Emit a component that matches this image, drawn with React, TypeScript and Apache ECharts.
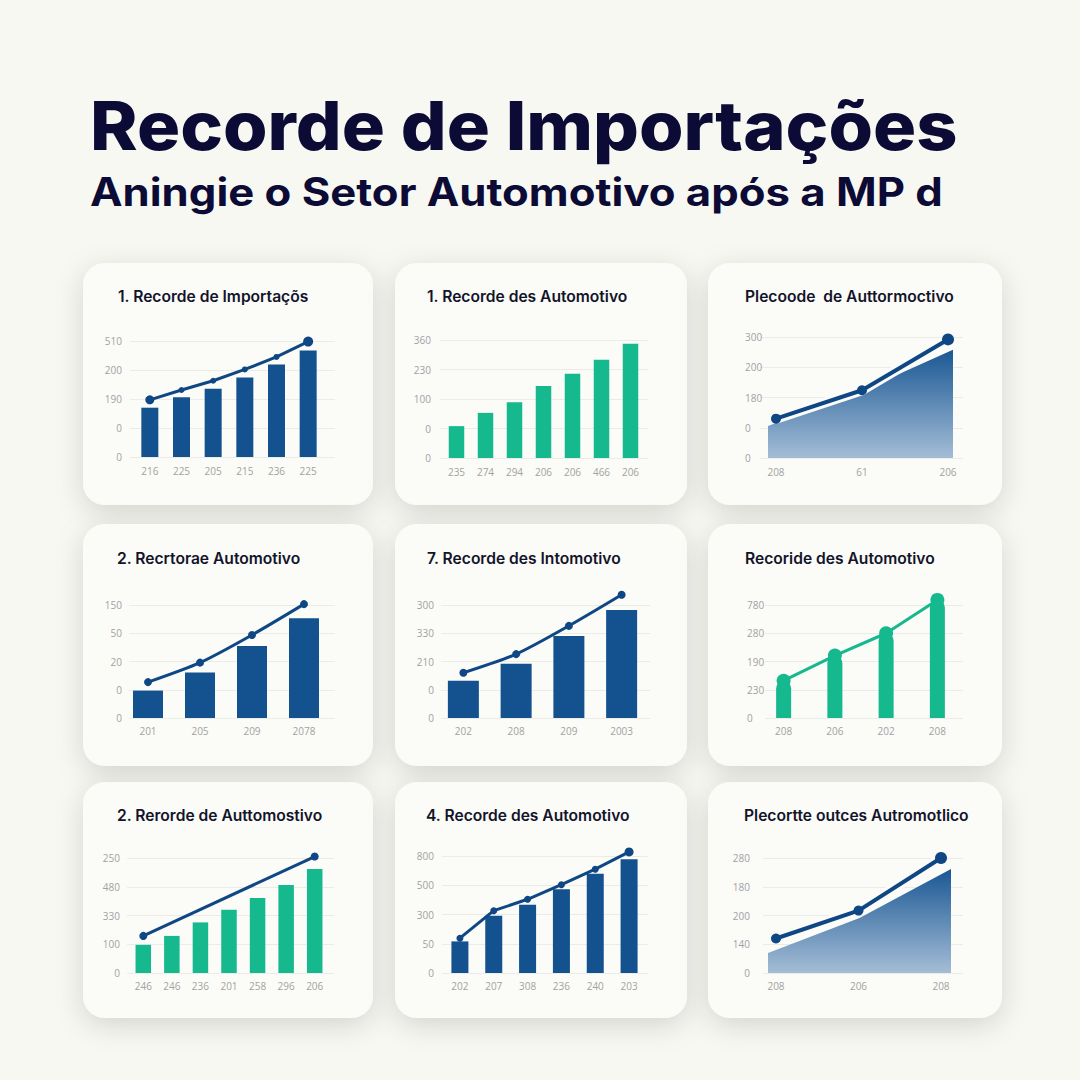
import React, { useEffect, useRef } from "react";
import * as echarts from "echarts";

// ---------- DATA ----------
const mainTitle = "Recorde de Importações";
const subTitle = "Aningie o Setor Automotivo após a MP d";

const p1Title = "1. Recorde de Importaçõs";
const p1Cats = ["216", "225", "205", "215", "236", "225"];
const p1Bars = [170, 206, 235, 274, 319, 367];
const p1Line = [197, 231, 263, 302, 345, 398];
const p1Ticks = ["0", "0", "190", "200", "510"];

const p2Title = "1. Recorde des Automotivo";
const p2Cats = ["235", "274", "294", "206", "206", "466", "206"];
const p2Bars = [108, 153, 189, 244, 286, 333, 387];
const p2Ticks = ["0", "0", "100", "230", "360"];

const p3Title = "Plecoode  de Auttormoctivo";
const p3Cats = ["208", "61", "206"];
const p3Area = [106, 221, 358];
const p3Line = [130, 224, 392];
const p3Ticks = ["0", "0", "180", "200", "300"];

const p4Title = "2. Recrtorae Automotivo";
const p4Cats = ["201", "205", "209", "2078"];
const p4Bars = [97, 161, 255, 353];
const p4Line = [127, 196, 294, 403];
const p4Ticks = ["0", "0", "20", "50", "150"];

const p5Title = "7. Recorde des Intomotivo";
const p5Cats = ["202", "208", "209", "2003"];
const p5Bars = [132, 192, 290, 382];
const p5Line = [160, 226, 326, 436];
const p5Ticks = ["0", "0", "210", "330", "300"];

const p6Title = "Recoride des Automotivo";
const p6Cats = ["208", "206", "202", "208"];
const p6Values = [132, 221, 300, 418];
const p6Ticks = ["0", "230", "190", "280", "780"];

const p7Title = "2. Rerorde de Auttomostivo";
const p7Cats = ["246", "246", "236", "201", "258", "296", "206"];
const p7Bars = [98, 129, 176, 220, 261, 306, 362];
const p7Line = [129, null, null, null, null, null, 405];
const p7Ticks = ["0", "100", "330", "480", "250"];

const p8Title = "4. Recorde des Automotivo";
const p8Cats = ["202", "207", "308", "236", "240", "203"];
const p8Bars = [108, 196, 233, 286, 339, 389];
const p8Line = [119, 213, 252, 302, 355, 414];
const p8Ticks = ["0", "50", "300", "500", "800"];

const p9Title = "Plecortte outces Autromotlico";
const p9Cats = ["208", "206", "208"];
const p9Area = [70, 191, 362];
const p9Line = [120, 217, 400];
const p9Ticks = ["0", "140", "200", "180", "280"];

// ---------- STYLE ----------
const BG = "#f8f8f3";
const CARD = "#fbfbf8";
const BLUE = "#13528f";
const NAVY = "#0e4784";
const GREEN = "#16b98d";
const LABEL = "#a2a2a2";
const GRIDLINE = "#ebebe7";
const TITLE_C = "#0b0b36";
const CARD_TITLE_C = "#12142a";
const FONT = "Inter, 'Noto Sans', sans-serif";
const LFONT = "'Open Sans', Roboto, sans-serif";

function buildOption() {
  const grid: any[] = [];
  const xAxis: any[] = [];
  const yAxis: any[] = [];
  const series: any[] = [];

  const addGrid = (l: number, r: number, t: number, b: number) => {
    grid.push({ left: l, top: t, width: r - l, height: b - t });
    return grid.length - 1;
  };

  const frame = (l: number, r: number, t: number, b: number, ticks: string[], align: string, margin: number) => {
    const gi = addGrid(l, r, t, b);
    xAxis.push({ gridIndex: gi, type: "category", show: false, data: ["a"] });
    yAxis.push({
      gridIndex: gi, type: "value", min: 0, max: 400, interval: 100,
      axisLine: { show: false }, axisTick: { show: false },
      splitLine: { show: true, lineStyle: { color: GRIDLINE, width: 1 } },
      axisLabel: {
        formatter: (v: number) => ticks[Math.round(v / 100)],
        color: LABEL, fontSize: 10, fontFamily: LFONT, align, margin,
      },
    });
  };

  const dataGrid = (l: number, r: number, t: number, b: number, cats: string[], showLabels: boolean, boundaryGap: boolean, margin = 8) => {
    const gi = addGrid(l, r, t, b);
    xAxis.push({
      gridIndex: gi, type: "category", data: cats, boundaryGap,
      axisLine: { show: false }, axisTick: { show: false },
      axisLabel: { show: showLabels, color: LABEL, fontSize: 10, fontFamily: LFONT, margin, interval: 0 },
    });
    yAxis.push({ gridIndex: gi, type: "value", min: 0, max: 400, interval: 100, show: false });
    return gi;
  };

  const bar = (gi: number, data: any[], width: number, color: string, radius: any = 0) => {
    series.push({
      type: "bar", xAxisIndex: gi, yAxisIndex: gi, data, barWidth: width, clip: false, z: 2,
      itemStyle: { color, borderRadius: radius },
    });
  };

  const line = (gi: number, data: any[], color: string, width: number, sizes: (i: number) => number, smooth: any = false, z = 4) => {
    series.push({
      type: "line", xAxisIndex: gi, yAxisIndex: gi, data, clip: false, z, smooth,
      connectNulls: true, symbol: "circle", showSymbol: true,
      symbolSize: (_v: any, p: any) => sizes(p.dataIndex),
      lineStyle: { color, width }, itemStyle: { color },
    });
  };

  const halo = (gi: number, data: any[]) => {
    series.push({
      type: "line", xAxisIndex: gi, yAxisIndex: gi, data, clip: false, z: 3,
      symbol: "none", lineStyle: { color: CARD, width: 10 }, silent: true,
    });
  };

  const area = (gi: number, data: any[]) => {
    series.push({
      type: "line", xAxisIndex: gi, yAxisIndex: gi, data, z: 2, symbol: "none",
      lineStyle: { width: 0 },
      areaStyle: {
        opacity: 1,
        color: new echarts.graphic.LinearGradient(0, 0, 0, 1, [
          { offset: 0, color: "#1a5794" },
          { offset: 1, color: "#a4bdd6" },
        ]),
      },
    });
  };

  // Panel 1
  frame(130, 335, 341, 457, p1Ticks, "right", 8);
  let g = dataGrid(134, 324, 341, 457, p1Cats, true, true, 9);
  bar(g, p1Bars, 17, BLUE);
  line(g, p1Line, NAVY, 3, (i) => (i === 0 ? 9 : i === p1Line.length - 1 ? 10 : 6));

  // Panel 2
  frame(440, 648, 340, 458, p2Ticks, "right", 9);
  g = dataGrid(442, 645, 340, 458, p2Cats, true, true, 9);
  bar(g, p2Bars, 15.5, GREEN);

  // Panel 3
  frame(760, 963, 337, 458, p3Ticks, "left", 15);
  g = dataGrid(768, 953, 337, 458, p3Cats, false, false);
  area(g, p3Area);
  g = dataGrid(776, 948, 337, 458, p3Cats, true, false, 9);
  halo(g, p3Line);
  line(g, p3Line, NAVY, 4, (i) => (i === 2 ? 12 : 10));

  // Panel 4
  frame(129, 335, 605, 718, p4Ticks, "right", 7);
  g = dataGrid(122, 330, 605, 718, p4Cats, true, true, 8);
  bar(g, p4Bars, 30, BLUE);
  line(g, p4Line, NAVY, 3, () => 8, 0.25);

  // Panel 5
  frame(441, 650, 605, 718, p5Ticks, "right", 7);
  g = dataGrid(437, 648, 605, 718, p5Cats, true, true, 8);
  bar(g, p5Bars, 31, BLUE);
  line(g, p5Line, NAVY, 3, () => 8, 0.25);

  // Panel 6
  frame(765, 963, 605, 718, p6Ticks, "left", 18);
  g = dataGrid(758, 963, 605, 718, p6Cats, true, true, 8);
  bar(g, p6Values, 15, GREEN, [8, 8, 0, 0]);
  line(g, p6Values, GREEN, 3, () => 14);

  // Panel 7
  frame(127, 334, 858, 973, p7Ticks, "right", 7);
  g = dataGrid(129, 329, 858, 973, p7Cats, true, true, 8);
  bar(g, p7Bars, 15.5, GREEN);
  line(g, p7Line, NAVY, 3, () => 8);

  // Panel 8
  frame(442, 648, 856, 973, p8Ticks, "right", 8);
  g = dataGrid(443, 646, 856, 973, p8Cats, true, true, 8);
  bar(g, p8Bars, 17, BLUE);
  line(g, p8Line, NAVY, 3, (i) => (i === p8Line.length - 1 ? 9 : 7));

  // Panel 9
  frame(763, 963, 858, 973, p9Ticks, "right", 13);
  g = dataGrid(768, 951, 858, 973, p9Cats, false, false);
  area(g, p9Area);
  g = dataGrid(776, 941, 858, 973, p9Cats, true, false, 8);
  halo(g, p9Line);
  line(g, p9Line, NAVY, 4, (i) => (i === 2 ? 12 : 10));

  // ---------- graphics: cards & titles ----------
  const cardCols = [
    { x: 83, w: 290 },
    { x: 395, w: 292 },
    { x: 708, w: 294 },
  ];
  const cardRows = [
    { y: 263, h: 242 },
    { y: 524, h: 242 },
    { y: 782, h: 236 },
  ];
  const graphics: any[] = [];
  cardRows.forEach((r) =>
    cardCols.forEach((c) => {
      graphics.push({
        type: "rect", z: -10, silent: true,
        shape: { x: c.x, y: r.y, width: c.w, height: r.h, r: 22 },
        style: { fill: CARD, shadowBlur: 28, shadowColor: "rgba(0,0,0,0.15)", shadowOffsetY: 7 },
      });
    })
  );

  const titles = [p1Title, p2Title, p3Title, p4Title, p5Title, p6Title, p7Title, p8Title, p9Title];
  const titleX = [118, 427, 745, 117, 427, 745, 117, 426, 744];
  const titleY = [297, 297, 297, 559, 559, 559, 816, 816, 816];
  titles.forEach((t, i) => {
    graphics.push({
      type: "text", z: 10, x: titleX[i], y: titleY[i], scaleX: 1.02,
      style: { text: t, fill: CARD_TITLE_C, fontSize: 15.3, fontWeight: 600, fontFamily: FONT, verticalAlign: "middle" },
    });
  });

  graphics.push({
    type: "text", z: 10, x: 90, y: 126, scaleX: 1.075,
    style: { text: mainTitle, fill: TITLE_C, fontSize: 67, fontWeight: 800, fontFamily: FONT, verticalAlign: "middle" },
  });
  graphics.push({
    type: "text", z: 10, x: 90, y: 192, scaleX: 1.12,
    style: { text: subTitle, fill: TITLE_C, fontSize: 39, fontWeight: 700, fontFamily: FONT, verticalAlign: "middle" },
  });

  return {
    animation: false,
    backgroundColor: BG,
    grid, xAxis, yAxis, series,
    graphic: { elements: graphics },
  };
}

export default function App() {
  const ref = useRef<HTMLDivElement>(null);
  useEffect(() => {
    document.body.style.margin = "0";
    if (!ref.current) return;
    const chart = echarts.init(ref.current, undefined, { renderer: "svg", width: 1080, height: 1080 });
    chart.setOption(buildOption());
    return () => chart.dispose();
  }, []);
  return <div ref={ref} style={{ width: 1080, height: 1080, background: BG }} />;
}
